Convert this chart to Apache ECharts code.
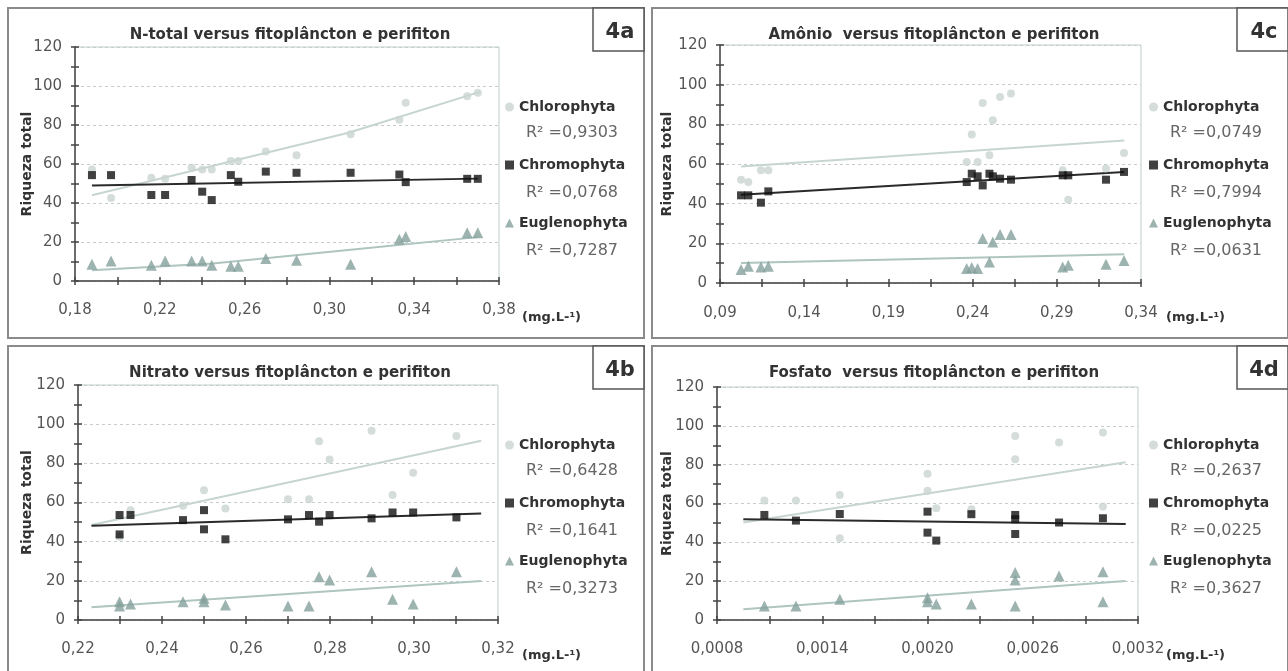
<!DOCTYPE html>
<html lang="pt">
<head>
<meta charset="UTF-8">
<title>Riqueza total versus nutrientes</title>
<script src="https://cdn.jsdelivr.net/npm/echarts@6/dist/echarts.min.js"></script>
<style>
  html, body { margin: 0; padding: 0; background: #fff; }
  #wrap { width: 1288px; height: 671px; }
</style>
</head>
<body>
<div id="wrap"></div>
<script>
// ---- dados ----
var seriesNames = ['Chlorophyta', 'Chromophyta', 'Euglenophyta'];

// 4a  N-total
var titleA = 'N-total versus fitoplâncton e perifiton';
var rangeA = [0.18, 0.38, 0.04, 2];   // min, max, intervalo, casas decimais
var chloroA = [[0.188,57.2],[0.197,42.6],[0.216,52.9],[0.2225,52.4],[0.235,58.1],[0.240,57.2],[0.2445,57.2],[0.2535,61.5],[0.257,61.5],[0.270,66.4],[0.2845,64.5],[0.310,75.3],[0.333,82.7],[0.336,91.4],[0.365,94.8],[0.370,96.5]];
var chromoA = [[0.188,54.3],[0.197,54.3],[0.216,44.1],[0.2225,44.1],[0.235,51.8],[0.240,45.8],[0.2445,41.5],[0.2535,54.3],[0.257,50.9],[0.270,56.1],[0.2845,55.5],[0.310,55.5],[0.333,54.6],[0.336,50.7],[0.365,52.4],[0.370,52.4]];
var eugleA = [[0.188,8.6],[0.197,10.3],[0.216,8.1],[0.2225,10.3],[0.235,10.3],[0.240,10.3],[0.2445,8.1],[0.2535,7.6],[0.257,7.6],[0.270,11.6],[0.2845,10.7],[0.310,8.6],[0.333,21.4],[0.336,22.8],[0.365,24.8],[0.370,24.8]];
var trendA = [
  [[0.188,44],[0.309,76],[0.371,97]],
  [[0.188,49],[0.370,52.5]],
  [[0.188,5.5],[0.245,9],[0.31,16],[0.37,22.5]]
];
var r2A = ['0,9303', '0,0768', '0,7287'];

// 4c  Amônio
var titleC = 'Amônio  versus fitoplâncton e perifiton';
var rangeC = [0.09, 0.34, 0.05, 2];
var chloroC = [[0.1025,52.1],[0.1068,50.9],[0.1143,56.8],[0.1187,56.8],[0.2365,61.0],[0.2395,74.9],[0.2430,61.0],[0.2460,90.7],[0.2500,64.4],[0.2520,82.0],[0.2563,93.8],[0.2628,95.5],[0.2935,56.8],[0.2968,42.0],[0.3192,57.7],[0.3299,65.5]];
var chromoC = [[0.1025,44.2],[0.1068,44.2],[0.1143,40.5],[0.1187,46.2],[0.2365,50.9],[0.2395,55.1],[0.2430,53.8],[0.2460,49.2],[0.2500,55.1],[0.2520,53.8],[0.2563,52.6],[0.2628,52.1],[0.2935,54.3],[0.2968,54.3],[0.3192,52.1],[0.3299,56.0]];
var eugleC = [[0.1025,6.8],[0.1068,8.4],[0.1143,8.1],[0.1187,8.4],[0.2365,7.3],[0.2395,7.8],[0.2430,7.3],[0.2460,22.4],[0.2500,10.6],[0.2520,20.7],[0.2563,24.4],[0.2628,24.4],[0.2935,8.1],[0.2968,8.9],[0.3192,9.4],[0.3299,11.4]];
var trendC = [
  [[0.1025,58.8],[0.33,71.9]],
  [[0.1025,44.5],[0.33,56]],
  [[0.1025,10.1],[0.33,14.5]]
];
var r2C = ['0,0749', '0,7994', '0,0631'];

// 4b  Nitrato
var titleB = 'Nitrato versus fitoplâncton e perifiton';
var rangeB = [0.22, 0.32, 0.02, 2];
var chloroB = [[0.2299,42.5],[0.2325,56],[0.245,58.3],[0.25,66.3],[0.2551,57],[0.27,61.6],[0.275,61.6],[0.2774,91.3],[0.2799,82],[0.2899,96.6],[0.2949,63.8],[0.2998,75.2],[0.3101,93.9]];
var chromoB = [[0.2299,53.6],[0.2299,43.7],[0.2325,53.6],[0.245,51.0],[0.25,56.1],[0.25,46.3],[0.2551,41.2],[0.27,51.4],[0.275,53.6],[0.2774,50.2],[0.2799,53.6],[0.2899,51.9],[0.2949,54.9],[0.2998,54.9],[0.3101,52.4]];
var eugleB = [[0.2299,9.3],[0.2299,7.1],[0.2325,8.2],[0.245,9.3],[0.25,11.1],[0.25,9.3],[0.2551,7.7],[0.27,7.1],[0.275,7.1],[0.2774,22.1],[0.2799,20.4],[0.2899,24.6],[0.2949,10.6],[0.2998,8.2],[0.3101,24.6]];
var trendB = [
  [[0.2232,48.5],[0.316,91.5]],
  [[0.2232,48.1],[0.316,54.4]],
  [[0.2232,6.5],[0.316,19.9]]
];
var r2B = ['0,6428', '0,1641', '0,3273'];

// 4d  Fosfato
var titleD = 'Fosfato  versus fitoplâncton e perifiton';
var rangeD = [0.0008, 0.0032, 0.0006, 4];
var chloroD = [[0.00107,61.5],[0.00125,61.5],[0.0015,64.4],[0.0015,42.1],[0.002,75.3],[0.002,66.6],[0.00205,57.6],[0.00225,57],[0.0025,94.8],[0.0025,82.8],[0.00275,91.4],[0.003,96.6],[0.003,58.4]];
var chromoD = [[0.00107,54.1],[0.00125,51.2],[0.0015,54.6],[0.002,55.8],[0.002,45.0],[0.00205,40.9],[0.00225,54.5],[0.0025,54.1],[0.0025,51.9],[0.0025,44.3],[0.00275,50.2],[0.003,52.4]];
var eugleD = [[0.00107,7.2],[0.00125,7.2],[0.0015,10.7],[0.002,9.4],[0.002,11.5],[0.00205,8.2],[0.00225,8.2],[0.0025,24.4],[0.0025,20.6],[0.0025,7.2],[0.00275,22.7],[0.003,24.9],[0.003,9.4]];
var trendD = [
  [[0.00095,50.2],[0.00313,81.3]],
  [[0.00095,51.9],[0.00313,49.5]],
  [[0.00095,5.5],[0.00313,20.1]]
];
var r2D = ['0,2637', '0,0225', '0,3627'];

var yTicks = [0, 120, 20];   // min, max, intervalo do eixo y

// ---- layout ----
var FONT = 'DejaVu Sans';
var markColors = ['#cbd5d2', '#111111', '#85a09b'];
var trendColors = ['#c6d5d1', '#2a2a2a', '#aec5c0'];
var symbols = ['circle', 'rect', 'triangle'];
var symbolSizes = [8, 8, 11];

var panels = [
  { label: '4a', title: titleA, range: rangeA, pts: [chloroA, chromoA, eugleA], trend: trendA, r2: r2A,
    ox: 0, oy: 0, grid: { left: 75, top: 47, width: 424, height: 234 }, yGap: 41, xMargin: 22 },
  { label: '4c', title: titleC, range: rangeC, pts: [chloroC, chromoC, eugleC], trend: trendC, r2: r2C,
    ox: 644, oy: 0, grid: { left: 720, top: 45, width: 421, height: 238 }, yGap: 46, xMargin: 23 },
  { label: '4b', title: titleB, range: rangeB, pts: [chloroB, chromoB, eugleB], trend: trendB, r2: r2B,
    ox: 0, oy: 338, grid: { left: 78, top: 385, width: 420, height: 235 }, yGap: 44, xMargin: 22 },
  { label: '4d', title: titleD, range: rangeD, pts: [chloroD, chromoD, eugleD], trend: trendD, r2: r2D,
    ox: 644, oy: 338, grid: { left: 717, top: 387, width: 421, height: 233 }, yGap: 43, xMargin: 22 }
];

var grids = [], xAxes = [], yAxes = [], series = [], titles = [], legends = [], graphics = [];
var axisColor = '#444';

panels.forEach(function (p, i) {
  grids.push({
    left: p.grid.left, top: p.grid.top, width: p.grid.width, height: p.grid.height,
    show: true, borderColor: '#bccfcb', borderWidth: 1, backgroundColor: 'transparent'
  });

  var dec = p.range[3];
  var tickCommon = { length: 4, lineStyle: { color: axisColor, width: 1.5 } };
  // eixo x principal + eixo gêmeo só para os traços internos
  xAxes.push({
    gridIndex: i, type: 'value', position: 'bottom',
    min: p.range[0], max: p.range[1], interval: p.range[2],
    axisLine: { onZero: false, lineStyle: { color: axisColor, width: 1.5 } },
    axisTick: tickCommon,
    minorTick: { show: true, splitNumber: 2, length: 4, lineStyle: { color: axisColor, width: 1.5 } },
    axisLabel: {
      margin: p.xMargin, fontFamily: FONT, fontSize: 15, color: '#555',
      formatter: function (v) { return v.toFixed(dec).replace('.', ','); }
    },
    splitLine: { show: false }
  });
  xAxes.push({
    gridIndex: i, type: 'value', position: 'bottom',
    min: p.range[0], max: p.range[1], interval: p.range[2],
    axisLine: { show: false },
    axisTick: { inside: true, length: 4, lineStyle: { color: axisColor, width: 1.5 } },
    minorTick: { show: true, splitNumber: 2, length: 4, lineStyle: { color: axisColor, width: 1.5 } },
    axisLabel: { show: false }, splitLine: { show: false }
  });

  yAxes.push({
    gridIndex: i, type: 'value', position: 'left',
    min: yTicks[0], max: yTicks[1], interval: yTicks[2],
    name: 'Riqueza total', nameLocation: 'middle', nameGap: p.yGap, nameMoveOverlap: false,
    nameTextStyle: { fontFamily: FONT, fontWeight: 'bold', fontSize: 14, color: '#333' },
    axisLine: { onZero: false, lineStyle: { color: axisColor, width: 1.5 } },
    axisTick: tickCommon,
    minorTick: { show: true, splitNumber: 2, length: 4, lineStyle: { color: axisColor, width: 1.5 } },
    axisLabel: { margin: 13, fontFamily: FONT, fontSize: 15, color: '#555' },
    splitLine: { show: true, lineStyle: { color: '#c5cccb', type: [3, 3], width: 1 } }
  });
  yAxes.push({
    gridIndex: i, type: 'value', position: 'left',
    min: yTicks[0], max: yTicks[1], interval: yTicks[2],
    axisLine: { show: false },
    axisTick: { inside: true, length: 4, lineStyle: { color: axisColor, width: 1.5 } },
    minorTick: { show: true, splitNumber: 2, length: 4, lineStyle: { color: axisColor, width: 1.5 } },
    axisLabel: { show: false }, splitLine: { show: false }
  });

  // linhas de tendência
  p.trend.forEach(function (t, k) {
    series.push({
      name: 'tend-' + p.label + '-' + k, type: 'line',
      xAxisIndex: 2 * i, yAxisIndex: 2 * i,
      data: t, symbol: 'none', silent: true, z: 2,
      lineStyle: { color: trendColors[k], width: 2 }
    });
  });
  // pontos
  p.pts.forEach(function (d, k) {
    series.push({
      name: seriesNames[k], type: 'scatter',
      xAxisIndex: 2 * i, yAxisIndex: 2 * i,
      data: d, symbol: symbols[k], symbolSize: symbolSizes[k], z: 3,
      itemStyle: { color: markColors[k] }
    });
  });

  titles.push({
    text: p.title, left: p.ox + 285, top: p.oy + 23, textAlign: 'center',
    textStyle: { fontFamily: FONT, fontWeight: 'bold', fontSize: 15, color: '#333' }
  });

  legends.push({
    orient: 'vertical', left: p.ox + 505, top: p.oy + 99, padding: 0,
    itemWidth: 9, itemHeight: 9, itemGap: 42, selectedMode: false,
    data: seriesNames.map(function (n, k) { return { name: n, icon: symbols[k] }; }),
    textStyle: { fontFamily: FONT, fontWeight: 'bold', fontSize: 14, lineHeight: 16, color: '#333' }
  });

  // moldura do painel
  graphics.push({
    type: 'rect', shape: { x: p.ox + 8, y: p.oy + 8, width: 636, height: 330 },
    style: { fill: null, stroke: '#8a8a8a', lineWidth: 2 }, silent: true
  });
  // caixa do rótulo
  graphics.push({
    type: 'rect', shape: { x: p.ox + 593, y: p.oy + 8, width: 51, height: 43 },
    style: { fill: '#fff', stroke: '#555', lineWidth: 1.5 }, silent: true
  });
  graphics.push({
    type: 'text', x: p.ox + 620, y: p.oy + 33,
    style: { text: p.label, font: 'bold 21px "' + FONT + '"', fill: '#333', textAlign: 'center', textVerticalAlign: 'middle' }
  });
  // R²
  var r2y = [133, 193, 251];
  p.r2.forEach(function (r, k) {
    graphics.push({
      type: 'text', x: p.ox + 526, y: p.oy + r2y[k],
      style: { text: 'R² =' + r, font: '16px "' + FONT + '"', fill: '#666', textVerticalAlign: 'middle' }
    });
  });
  // unidade
  graphics.push({
    type: 'text', x: p.ox + 522, y: p.oy + 318,
    style: { text: '(mg.L-¹)', font: 'bold 13px "' + FONT + '"', fill: '#333', textVerticalAlign: 'middle' }
  });
});

var myChart = echarts.init(document.getElementById('wrap'), null, { renderer: 'canvas' });
myChart.setOption({
  animation: false,
  backgroundColor: '#fff',
  title: titles,
  legend: legends,
  grid: grids,
  xAxis: xAxes,
  yAxis: yAxes,
  series: series,
  graphic: graphics
});
</script>
</body>
</html>
